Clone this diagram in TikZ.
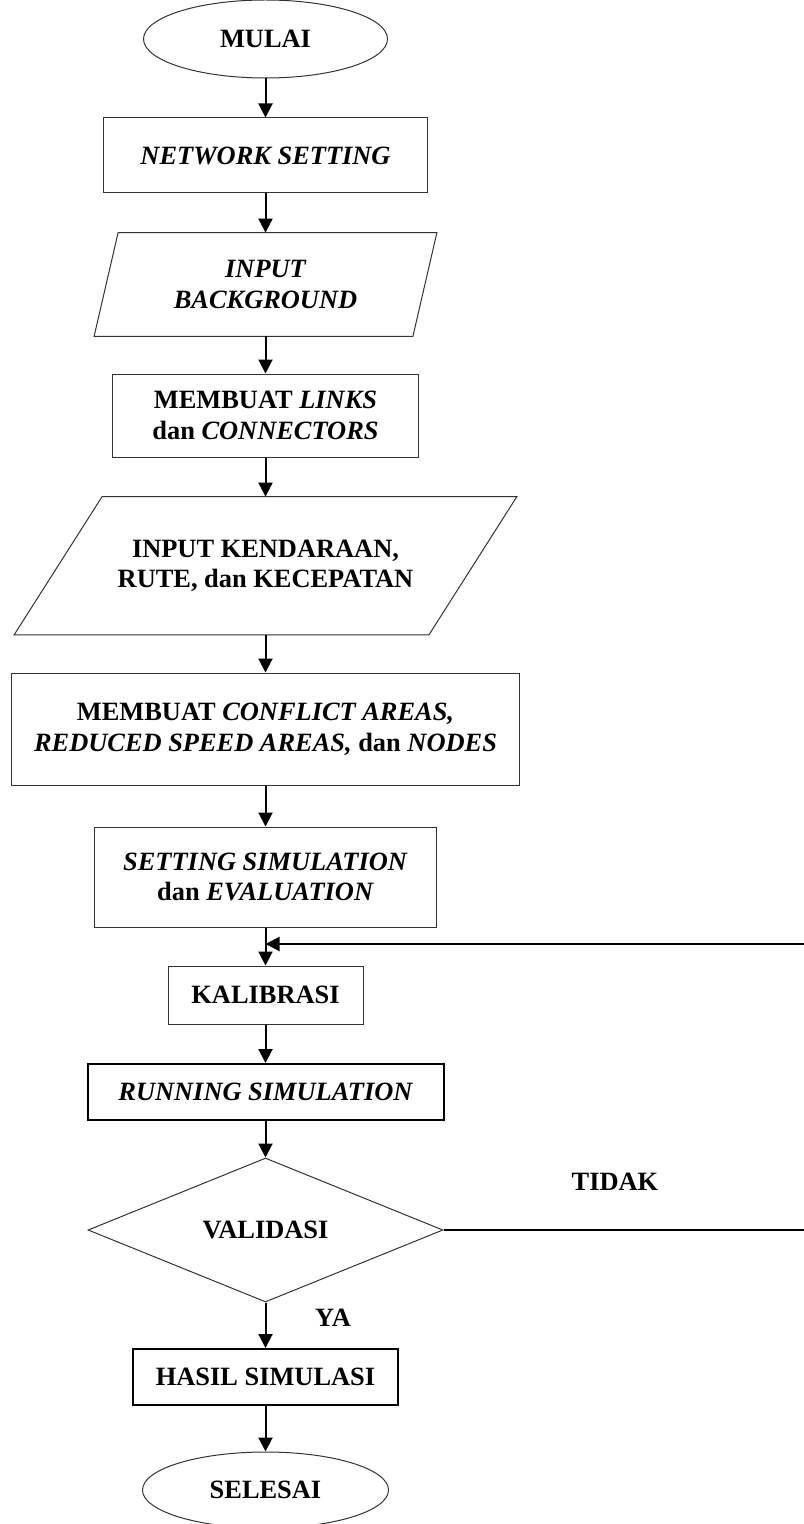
\documentclass[tikz,border=0pt]{standalone}
\usepackage{fontspec}
\setmainfont{Liberation Serif}
\usetikzlibrary{shapes.geometric,arrows.meta}

\begin{document}
\begin{tikzpicture}[
        x=0.5pt, y=-0.5pt, % satu satuan = satu piksel, y ke bawah
        font=\fontsize{13.2}{15.3}\selectfont\bfseries,
        kotak/.style={rectangle, draw=black!80, line width=0.5pt, align=center, inner sep=0pt}, % proses
        kotaktebal/.style={kotak, draw=black, line width=1pt},
        data/.style={rectangle, align=center, inner sep=0pt}, % isi jajaran genjang
        genjang/.style={draw=black!80, line width=0.5pt},
        terminal/.style={ellipse, draw=black!80, line width=0.5pt, inner sep=0pt},
        keputusan/.style={diamond, aspect=2.5, draw=black!80, line width=0.5pt, inner sep=0pt},
        panah/.style={-{Triangle[length=7pt,width=7pt]}, line width=1pt},
    ]

    \useasboundingbox (0,0) rectangle (803,1524);

    \node[terminal, minimum width=122pt, minimum height=39pt] (mulai) at (265.5,39) {MULAI};
    \node[kotak, minimum width=162pt, minimum height=37.5pt] (netset) at (265.5,155.5) {\itshape NETWORK SETTING};
    \node[data, minimum width=159pt, minimum height=51.5pt] (inbg) at (265.5,284.5) {\itshape INPUT\\\itshape BACKGROUND};
    \draw[genjang] ([xshift=6pt]inbg.north west) -- ([xshift=6pt]inbg.north east)
        -- ([xshift=-6pt]inbg.south east) -- ([xshift=-6pt]inbg.south west) -- cycle;
    \node[kotak, minimum width=153pt, minimum height=41.5pt] (links) at (265.5,415.5) {MEMBUAT \textit{LINKS}\\dan \textit{CONNECTORS}};
    \node[data, minimum width=207pt, minimum height=68.75pt] (inkend) at (265.5,565.75) {INPUT KENDARAAN,\\RUTE, dan KECEPATAN};
    \draw[genjang] ([xshift=22pt]inkend.north west) -- ([xshift=22pt]inkend.north east)
        -- ([xshift=-22pt]inkend.south east) -- ([xshift=-22pt]inkend.south west) -- cycle;
    \node[kotak, minimum width=254pt, minimum height=56pt] (conflict) at (265.5,729) {MEMBUAT \textit{CONFLICT AREAS,}\\\textit{REDUCED SPEED AREAS,} dan \textit{NODES}};
    \node[kotak, minimum width=171pt, minimum height=50pt] (setsim) at (265.5,877) {\textit{SETTING SIMULATION}\\dan \textit{EVALUATION}};
    \node[kotak, minimum width=97.5pt, minimum height=29pt] (kalib) at (265.5,995) {KALIBRASI};
    \node[kotaktebal, minimum width=178pt, minimum height=28pt] (running) at (265.5,1092) {\itshape RUNNING SIMULATION};
    \node[keputusan, minimum width=177.5pt, minimum height=72pt] (valid) at (265.5,1230) {VALIDASI};
    \node[kotaktebal, minimum width=132.5pt, minimum height=28pt] (hasil) at (265.5,1377) {HASIL SIMULASI};
    \node[terminal, minimum width=123pt, minimum height=38pt] (selesai) at (265.5,1490) {SELESAI};

    \node (tidak) at (615,1182) {TIDAK};
    \node (ya) at (333,1318) {YA};

    % titik balik di luar tepi kanan
    \coordinate (balik1) at (820,1230);
    \coordinate (balik2) at (820,944);

    \draw[panah] (mulai) -- (netset);
    \draw[panah] (netset) -- (inbg);
    \draw[panah] (inbg) -- (links);
    \draw[panah] (links) -- (inkend);
    \draw[panah] (inkend) -- (conflict);
    \draw[panah] (conflict) -- (setsim);
    \draw[panah] (setsim) -- (kalib);
    \draw[panah] (kalib) -- (running);
    \draw[panah] (running) -- (valid);
    \draw[panah] (valid) -- (hasil);
    \draw[panah] (hasil) -- (selesai);
    \draw[panah] (valid.east) -- (balik1) -- (balik2) -- (balik2 -| kalib.north);
\end{tikzpicture}
\end{document}
